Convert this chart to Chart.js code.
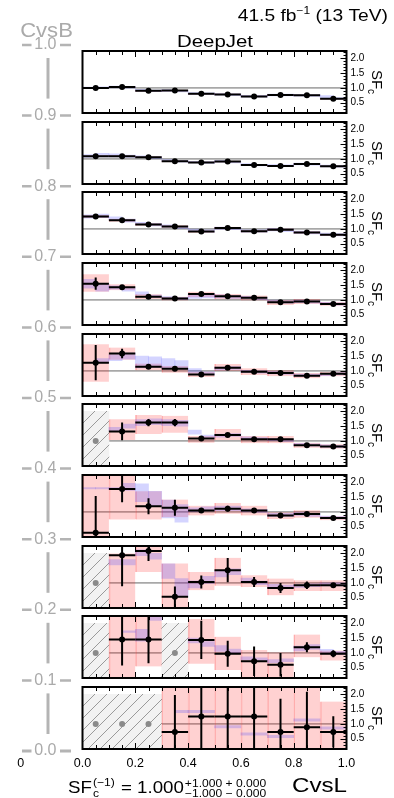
<!DOCTYPE html>
<html>
<head>
<meta charset="utf-8">
<title>DeepJet SFc vs CvsL in CvsB slices</title>
<script src="https://cdn.jsdelivr.net/npm/chart.js@4.4.1/dist/chart.umd.min.js"></script>
<style>
  body { margin: 0; background: #fff; }
  #page { position: relative; width: 394px; height: 798px; overflow: hidden; }
  #page canvas { position: absolute; left: 0; }
</style>
</head>
<body>
<div id="page"><canvas id="frame" width="394" height="798"></canvas></div>
<script>
// x axis: CvsL bins, and the finer bins of the smooth curve
const cvslEdges   = [0, 0.1, 0.2, 0.3, 0.4, 0.5, 0.6, 0.7, 0.8, 0.9, 1.0];
const cvslCenters = [0.05, 0.15, 0.25, 0.35, 0.45, 0.55, 0.65, 0.75, 0.85, 0.95];
const fineCenters = [0.025, 0.075, 0.125, 0.175, 0.225, 0.275, 0.325, 0.375, 0.425, 0.475,
                     0.525, 0.575, 0.625, 0.675, 0.725, 0.775, 0.825, 0.875, 0.925, 0.975];
const cvslTicks = [0, 0.2, 0.4, 0.6, 0.8, 1.0];
const cvsbTicks = [1.0, 0.9, 0.8, 0.7, 0.6, 0.5, 0.4, 0.3, 0.2, 0.1, 0.0];
const sfTicks   = [0.5, 1.0, 1.5, 2.0];
const cvsbSlices = ['0.9-1.0','0.8-0.9','0.7-0.8','0.6-0.7','0.5-0.6','0.4-0.5','0.3-0.4','0.2-0.3','0.1-0.2','0.0-0.1'];

// one row per CvsB slice, top panel first. null = empty bin (hatched)
const sfVal = [
  [1.00, 1.03, 0.90, 0.91, 0.80, 0.78, 0.71, 0.76, 0.75, 0.63],
  [1.09, 1.09, 1.06, 0.92, 0.88, 0.91, 0.79, 0.76, 0.83, 0.75],
  [1.42, 1.29, 1.15, 1.08, 0.91, 1.03, 0.92, 0.97, 0.88, 0.80],
  [1.55, 1.43, 1.11, 1.05, 1.20, 1.12, 1.07, 0.92, 0.95, 0.86],
  [1.28, 1.59, 1.14, 1.07, 0.88, 1.11, 0.97, 0.93, 0.84, 0.90],
  [null, 1.32, 1.62, 1.62, 1.08, 1.20, 1.06, 1.06, 0.85, 0.81],
  [0.29, 1.78, 1.19, 1.14, 1.05, 1.11, 1.05, 0.88, 0.93, 0.79],
  [null, 1.94, 2.08, 0.53, 1.03, 1.43, 1.03, 0.83, 0.92, 0.92],
  [null, 1.45, 1.45, null, 1.44, 0.97, 0.72, 0.60, 1.19, 0.97],
  [null, null, null, 0.73, 1.25, 1.25, 1.25, 0.73, 0.89, 0.73]
];
const sfErr = [
  [0.02, 0.02, 0.02, 0.02, 0.02, 0.02, 0.02, 0.02, 0.02, 0.02],
  [0.02, 0.02, 0.02, 0.02, 0.02, 0.02, 0.02, 0.02, 0.02, 0.02],
  [0.03, 0.03, 0.02, 0.02, 0.02, 0.02, 0.02, 0.02, 0.02, 0.02],
  [0.21, 0.06, 0.03, 0.03, 0.03, 0.03, 0.03, 0.02, 0.02, 0.02],
  [0.60, 0.16, 0.05, 0.06, 0.03, 0.04, 0.03, 0.03, 0.03, 0.03],
  [null, 0.30, 0.12, 0.12, 0.04, 0.07, 0.04, 0.04, 0.03, 0.03],
  [1.25, 0.45, 0.27, 0.27, 0.08, 0.10, 0.07, 0.05, 0.05, 0.03],
  [null, 1.05, 0.34, 0.35, 0.22, 0.41, 0.17, 0.17, 0.13, 0.06],
  [null, 0.88, 0.80, null, 0.65, 0.44, 0.50, 0.40, 0.17, 0.12],
  [null, null, null, 1.25, 1.25, 1.25, 1.25, 1.12, 1.20, 0.53]
];
// total uncertainty band (red), low and high edge per bin
const bandLo = [
  [0.97, 1.00, 0.87, 0.88, 0.77, 0.75, 0.68, 0.73, 0.72, 0.60],
  [1.06, 1.06, 1.03, 0.89, 0.85, 0.88, 0.76, 0.73, 0.80, 0.72],
  [1.37, 1.24, 1.11, 1.04, 0.87, 0.99, 0.88, 0.93, 0.84, 0.76],
  [1.28, 1.33, 1.03, 0.98, 1.09, 1.02, 0.98, 0.83, 0.86, 0.80],
  [0.63, 1.38, 1.02, 0.94, 0.79, 1.00, 0.86, 0.82, 0.75, 0.82],
  [null, 1.03, 1.23, 1.28, 0.94, 1.03, 0.92, 0.92, 0.77, 0.74],
  [-0.5, 0.74, 0.74, 0.82, 0.88, 0.94, 0.88, 0.76, 0.80, 0.72],
  [null, -0.5, 1.37, -0.5, 0.75, 0.90, 0.86, 0.58, 0.73, 0.73],
  [null, -0.5, 0.54, null, 0.63, 0.42, -0.5, -0.5, 0.85, 0.74],
  [null, null, null, -0.5, -0.5, -0.5, -0.5, -0.5, -0.5, -0.5]
];
const bandHi = [
  [1.03, 1.06, 0.93, 0.94, 0.83, 0.81, 0.74, 0.79, 0.78, 0.66],
  [1.12, 1.12, 1.09, 0.95, 0.91, 0.94, 0.82, 0.79, 0.86, 0.78],
  [1.47, 1.34, 1.19, 1.12, 0.95, 1.07, 0.96, 1.01, 0.92, 0.84],
  [1.87, 1.53, 1.19, 1.11, 1.28, 1.20, 1.15, 1.00, 1.03, 0.93],
  [1.90, 1.79, 1.25, 1.17, 0.97, 1.23, 1.09, 1.02, 0.93, 0.97],
  [null, 1.73, 1.88, 1.85, 1.17, 1.40, 1.17, 1.17, 0.94, 0.89],
  [3.0, 3.0, 1.70, 1.42, 1.21, 1.30, 1.21, 0.99, 1.06, 0.85],
  [null, 2.00, 3.0, 1.66, 1.37, 1.85, 1.26, 1.15, 1.09, 1.09],
  [null, 3.0, 3.0, null, 2.15, 1.55, 1.10, 1.02, 1.62, 1.08],
  [null, null, null, 3.0, 3.0, 3.0, 3.0, 3.0, 3.0, 1.76]
];
// smooth curve (blue) in fine bins: central value and half width
const fitMid = [
  [1.00, 1.01, 1.03, 1.02, 0.92, 0.90, 0.91, 0.89, 0.81, 0.80, 0.78, 0.77, 0.72, 0.72, 0.76, 0.76, 0.75, 0.74, 0.70, 0.64],
  [1.10, 1.13, 1.12, 1.09, 1.07, 1.04, 0.95, 0.92, 0.89, 0.88, 0.92, 0.89, 0.81, 0.79, 0.78, 0.77, 0.83, 0.82, 0.76, 0.75],
  [1.42, 1.44, 1.36, 1.28, 1.18, 1.14, 1.10, 1.05, 0.95, 0.93, 1.02, 1.01, 0.93, 0.93, 0.97, 0.95, 0.89, 0.87, 0.82, 0.80],
  [1.55, 1.42, 1.42, 1.35, 1.22, 1.12, 1.07, 1.05, 1.12, 1.14, 1.12, 1.10, 1.08, 1.05, 0.95, 0.93, 0.95, 0.93, 0.88, 0.86],
  [null, 1.35, 1.45, 1.50, 1.30, 1.30, 1.25, 1.20, 1.00, 0.92, 1.08, 1.10, 0.98, 0.96, 0.94, 0.92, 0.85, 0.85, 0.88, 0.90],
  [null, null, 1.40, 1.50, 1.62, 1.65, 1.62, 1.60, 1.30, 1.15, 1.18, 1.20, 1.10, 1.07, 1.05, 1.02, 0.88, 0.86, 0.83, 0.81],
  [1.80, 1.80, 1.80, 1.85, 1.65, 1.45, 1.10, 0.95, 1.07, 1.10, 1.12, 1.12, 1.05, 1.03, 0.90, 0.90, 0.93, 0.90, 0.82, 0.80],
  [null, null, 1.70, 1.70, 2.02, 1.90, 1.40, 0.85, 0.95, 1.10, 1.30, 1.38, 1.10, 1.00, 0.90, 0.88, 0.90, 0.92, 0.95, 0.95],
  [null, null, null, 1.72, 1.60, 2.18, null, null, 1.42, 1.30, 1.15, 1.05, 0.82, 0.78, 0.72, 0.75, 1.15, 1.20, 1.07, 1.00],
  [null, null, null, null, null, null, null, 1.42, 1.42, 1.42, 0.90, 0.90, 0.66, 0.66, 0.57, 0.57, 1.13, 1.13, 0.86, 0.86]
];
const fitErr = [
  [0.03, 0.03, 0.03, 0.03, 0.03, 0.03, 0.03, 0.03, 0.03, 0.03, 0.03, 0.03, 0.03, 0.03, 0.03, 0.03, 0.03, 0.03, 0.04, 0.03],
  [0.05, 0.06, 0.05, 0.04, 0.03, 0.03, 0.03, 0.03, 0.03, 0.03, 0.03, 0.03, 0.03, 0.03, 0.03, 0.03, 0.03, 0.03, 0.03, 0.03],
  [0.06, 0.06, 0.05, 0.05, 0.04, 0.04, 0.04, 0.04, 0.04, 0.04, 0.04, 0.04, 0.04, 0.04, 0.04, 0.04, 0.04, 0.04, 0.04, 0.04],
  [0.15, 0.12, 0.06, 0.05, 0.05, 0.04, 0.04, 0.04, 0.07, 0.07, 0.05, 0.05, 0.04, 0.04, 0.04, 0.04, 0.04, 0.04, 0.04, 0.04],
  [null, 0.07, 0.10, 0.10, 0.20, 0.18, 0.17, 0.15, 0.08, 0.05, 0.05, 0.05, 0.04, 0.04, 0.04, 0.04, 0.04, 0.04, 0.04, 0.04],
  [null, null, 0.06, 0.07, 0.10, 0.10, 0.10, 0.10, 0.07, 0.05, 0.05, 0.05, 0.04, 0.04, 0.04, 0.04, 0.04, 0.04, 0.04, 0.04],
  [0.02, 0.02, 0.02, 0.12, 0.30, 0.25, 0.30, 0.30, 0.07, 0.07, 0.08, 0.08, 0.05, 0.05, 0.05, 0.05, 0.05, 0.05, 0.04, 0.04],
  [null, null, 0.09, 0.09, 0.10, 0.10, 0.25, 0.30, 0.12, 0.12, 0.10, 0.10, 0.06, 0.06, 0.05, 0.05, 0.05, 0.05, 0.05, 0.05],
  [null, null, null, 0.03, 0.20, 0.08, null, null, 0.08, 0.08, 0.10, 0.08, 0.05, 0.05, 0.05, 0.05, 0.08, 0.08, 0.05, 0.05],
  [null, null, null, null, null, null, null, 0.04, 0.04, 0.04, 0.04, 0.04, 0.04, 0.04, 0.04, 0.04, 0.04, 0.04, 0.04, 0.04]
];

const W = 394, H = 798;
const plotL = 82.5, plotR = 346.5;
const cvsbTop = 45, cvsbBottom = 751;
const firstTop = 51, pitch = 70.67, panelH = 62, pad = 6;
const FONT = '"Liberation Sans", Arial, Helvetica, sans-serif';
Chart.defaults.font.family = FONT;

function put(ctx, s, x, y, size, color, sx) {
  sx = sx || 1;
  ctx.save();
  ctx.font = size + 'px ' + FONT;
  ctx.fillStyle = color || '#000';
  ctx.textAlign = 'left';
  ctx.textBaseline = 'alphabetic';
  const w = ctx.measureText(s).width * sx;
  ctx.translate(x, y);
  ctx.scale(sx, 1);
  ctx.fillText(s, 0, 0);
  ctx.restore();
  return w;
}
function widthOf(ctx, s, size, sx) {
  ctx.save();
  ctx.font = size + 'px ' + FONT;
  const w = ctx.measureText(s).width * (sx || 1);
  ctx.restore();
  return w;
}

// error bars, frame, inner ticks and the SF_c title of one panel
const panelDeco = {
  id: 'panelDeco',
  beforeDatasetDraw(chart, args, opts) {
    if (chart.data.datasets[args.index].label !== 'SF') return;
    const p = opts.panel, ctx = chart.ctx, a = chart.chartArea;
    const xs = chart.scales.x, ys = chart.scales.y;
    ctx.save();
    ctx.beginPath();
    ctx.rect(a.left, a.top, a.right - a.left, a.bottom - a.top);
    ctx.clip();
    ctx.strokeStyle = '#000';
    ctx.lineWidth = 2;
    sfVal[p].forEach((v, i) => {
      if (v === null) return;
      const e = sfErr[p][i];
      const px = xs.getPixelForValue(cvslCenters[i]), py = ys.getPixelForValue(v);
      ctx.beginPath();
      ctx.moveTo(xs.getPixelForValue(cvslEdges[i]), py);
      ctx.lineTo(xs.getPixelForValue(cvslEdges[i + 1]), py);
      ctx.moveTo(px, ys.getPixelForValue(v + e));
      ctx.lineTo(px, ys.getPixelForValue(v - e));
      ctx.stroke();
    });
    ctx.restore();
  },
  afterDraw(chart) {
    const ctx = chart.ctx, a = chart.chartArea;
    const xs = chart.scales.x, ys = chart.scales.y;
    ctx.save();
    ctx.strokeStyle = '#000';
    ctx.lineWidth = 1;
    ctx.beginPath();
    for (let k = 1; k < 20; k++) {
      const px = Math.round(xs.getPixelForValue(k * 0.05)) + 0.5;
      const len = k % 4 === 0 ? 6 : 4;
      ctx.moveTo(px, a.top); ctx.lineTo(px, a.top + len);
      ctx.moveTo(px, a.bottom); ctx.lineTo(px, a.bottom - len);
    }
    for (let k = 2; k <= 22; k++) {
      const py = Math.round(ys.getPixelForValue(k / 10)) + 0.5;
      const len = k % 5 === 0 ? 6 : 3;
      ctx.moveTo(a.right, py); ctx.lineTo(a.right - len, py);
    }
    ctx.stroke();
    ctx.lineWidth = 2;
    ctx.strokeRect(a.left, a.top, a.right - a.left, a.bottom - a.top);

    // rotated axis title SF with subscript c
    const cy = (a.top + a.bottom) / 2;
    ctx.translate(a.right + 25.5, cy);
    ctx.rotate(Math.PI / 2);
    const wSF = widthOf(ctx, 'SF', 15), wc = widthOf(ctx, 'c', 10);
    const x0 = -(wSF + wc) / 2;
    put(ctx, 'SF', x0, 0, 15);
    put(ctx, 'c', x0 + wSF, 4, 10);
    ctx.restore();
  }
};

// page texts and the grey CvsB axis
const frameDeco = {
  id: 'frameDeco',
  afterDraw(chart) {
    const ctx = chart.ctx, yb = chart.scales.y;
    ctx.save();
    ctx.strokeStyle = '#b4b4b4';
    ctx.lineCap = 'butt';
    cvsbTicks.forEach(v => {
      const py = yb.getPixelForValue(v);
      ctx.lineWidth = v === 0 ? 3 : 2.5;
      ctx.beginPath();
      ctx.moveTo(22, py); ctx.lineTo(31.5, py);
      ctx.moveTo(60, py); ctx.lineTo(71, py);
      ctx.stroke();
    });
    ctx.lineWidth = 3;
    for (let i = 0; i + 1 < cvsbTicks.length; i++) {
      const y1 = yb.getPixelForValue(cvsbTicks[i]) + 13;
      const y2 = yb.getPixelForValue(cvsbTicks[i + 1]) - 17;
      ctx.beginPath();
      ctx.moveTo(48, y1); ctx.lineTo(48, y2);
      ctx.stroke();
    }
    ctx.restore();

    // CvsB axis name
    const wB = widthOf(ctx, 'CvsB', 21, 1.05);
    put(ctx, 'CvsB', 46.5 - wB / 2, 36.5, 21, '#aaaaaa', 1.05);

    // lumi label
    let sx = 1.2;
    const wa = widthOf(ctx, '41.5 fb', 16, sx), wm = widthOf(ctx, '\u22121', 10, sx), wt = widthOf(ctx, ' (13 TeV)', 16, sx);
    let tx = 388 - (wa + wm + wt);
    tx += put(ctx, '41.5 fb', tx, 21, 16, '#000', sx);
    tx += put(ctx, '\u22121', tx, 14, 10, '#000', sx);
    put(ctx, ' (13 TeV)', tx, 21, 16, '#000', sx);

    // tagger
    const wd = widthOf(ctx, 'DeepJet', 17, 1.2);
    put(ctx, 'DeepJet', 215 - wd / 2, 47, 17, '#000', 1.2);

    // lone zero under the CvsB axis
    const w0 = widthOf(ctx, '0', 12.5);
    put(ctx, '0', 20.7 - w0 / 2, 766.5, 12.5);

    // x axis name
    const wl = widthOf(ctx, 'CvsL', 21, 1.15);
    put(ctx, 'CvsL', 347 - wl, 792, 21, '#000', 1.15);

    // SF_c^(-1) formula
    sx = 1.1;
    let fx = 68;
    fx += put(ctx, 'SF', fx, 793, 17, '#000', sx);
    const wsub = put(ctx, 'c', fx + 1, 797, 11, '#000', sx);
    const wsup = put(ctx, '(\u22121)', fx + 1, 785.5, 11, '#000', sx);
    fx += Math.max(wsub, wsup) + 2;
    fx += put(ctx, ' = 1.000', fx, 793, 17, '#000', sx);
    put(ctx, '+1.000 + 0.000', fx + 1, 787, 11, '#000', sx);
    put(ctx, '\u22121.000 \u2212 0.000', fx + 1, 797, 11, '#000', sx);
  }
};

const page = document.getElementById('page');
const noGrid = { display: false, drawTicks: false };

new Chart(document.getElementById('frame'), {
  type: 'scatter',
  data: { datasets: [] },
  options: {
    responsive: false,
    animation: false,
    events: [],
    layout: { padding: { left: 0, right: W - plotR, top: cvsbTop, bottom: 0 } },
    plugins: { legend: { display: false }, tooltip: { enabled: false } },
    scales: {
      x: {
        type: 'linear', min: 0, max: 1, position: 'bottom',
        grid: noGrid, border: { display: false },
        afterBuildTicks: s => { s.ticks = cvslTicks.map(v => ({ value: v })); },
        afterFit: s => { s.height = H - cvsbBottom; s.paddingLeft = 0; s.paddingRight = 0; },
        ticks: { padding: 5, color: '#000', font: { size: 12.5 }, maxRotation: 0, autoSkip: false,
                 callback: v => v.toFixed(1) }
      },
      y: {
        type: 'linear', min: 0, max: 1, position: 'left',
        grid: noGrid, border: { display: false },
        afterBuildTicks: s => { s.ticks = cvsbTicks.map(v => ({ value: v })); },
        afterFit: s => { s.width = plotL; s.paddingTop = 0; s.paddingBottom = 0; },
        ticks: { padding: 26, color: '#aaaaaa', font: { size: 16 }, autoSkip: false,
                 callback: v => v.toFixed(1) }
      }
    }
  },
  plugins: [frameDeco]
});

for (let p = 0; p < sfVal.length; p++) {
  const cv = document.createElement('canvas');
  cv.width = W;
  cv.height = panelH + 2 * pad;
  cv.style.top = (firstTop + p * pitch - pad) + 'px';
  cv.setAttribute('aria-label', 'SFc vs CvsL, CvsB ' + cvsbSlices[p]);
  page.appendChild(cv);

  // hatch for empty bins
  const tile = document.createElement('canvas');
  tile.width = 12; tile.height = 12;
  const tg = tile.getContext('2d');
  tg.fillStyle = '#f2f2f2';
  tg.fillRect(0, 0, 12, 12);
  tg.strokeStyle = '#9a9a9a';
  tg.lineWidth = 1;
  tg.beginPath();
  tg.moveTo(-1, 13); tg.lineTo(13, -1);
  tg.moveTo(-7, 7); tg.lineTo(7, -7);
  tg.moveTo(5, 19); tg.lineTo(19, 5);
  tg.stroke();
  const hatch = cv.getContext('2d').createPattern(tile, 'repeat');

  const points = [], empty = [], emptyBars = [], bands = [], fits = [];
  cvslCenters.forEach((c, i) => {
    if (sfVal[p][i] === null) {
      empty.push({ x: c, y: 1 });
      emptyBars.push({ x: c, y: [0, 2] });
    } else {
      points.push({ x: c, y: sfVal[p][i] });
      bands.push({ x: c, y: [bandLo[p][i], bandHi[p][i]] });
    }
  });
  fineCenters.forEach((c, i) => {
    const m = fitMid[p][i];
    if (m !== null) fits.push({ x: c, y: [m - fitErr[p][i], m + fitErr[p][i]] });
  });

  new Chart(cv, {
    type: 'bar',
    data: {
      datasets: [
        { type: 'scatter', label: 'SF', data: points, xAxisID: 'x', yAxisID: 'y',
          pointRadius: 3, pointBackgroundColor: '#000', pointBorderWidth: 0, order: 1 },
        { type: 'scatter', label: 'no data', data: empty, xAxisID: 'x', yAxisID: 'y',
          pointRadius: 3, pointBackgroundColor: '#8a8a8a', pointBorderWidth: 0, order: 2 },
        { type: 'bar', label: 'fit', data: fits, xAxisID: 'xf', yAxisID: 'y', grouped: false,
          barPercentage: 1, categoryPercentage: 1, backgroundColor: 'rgba(40,40,255,0.2)',
          borderWidth: 0, order: 4 },
        { type: 'bar', label: 'total unc.', data: bands, xAxisID: 'x', yAxisID: 'y', grouped: false,
          barPercentage: 1, categoryPercentage: 1, backgroundColor: 'rgba(255,0,0,0.18)',
          borderColor: 'rgba(255,60,60,0.3)', borderSkipped: false,
          borderWidth: { left: 1, right: 0, top: 0, bottom: 0 }, order: 5 },
        { type: 'bar', label: 'empty', data: emptyBars, xAxisID: 'x', yAxisID: 'y', grouped: false,
          barPercentage: 1, categoryPercentage: 1, backgroundColor: hatch, borderWidth: 0, order: 6 },
        { type: 'line', label: 'unity', data: [{ x: 0, y: 1 }, { x: 1, y: 1 }], xAxisID: 'x', yAxisID: 'y',
          borderColor: '#a8a8a8', borderWidth: 1.7, pointRadius: 0, order: 7 }
      ]
    },
    options: {
      responsive: false,
      animation: false,
      events: [],
      layout: { padding: { left: plotL, right: 0, top: pad, bottom: pad } },
      plugins: { legend: { display: false }, tooltip: { enabled: false }, panelDeco: { panel: p } },
      scales: {
        x: { type: 'linear', min: 0, max: 1, offset: false, display: false },
        xf: { type: 'linear', min: 0, max: 1, offset: false, display: false },
        y: {
          type: 'linear', position: 'right', min: 0.15, max: 2.25,
          grid: noGrid, border: { display: false },
          afterBuildTicks: s => { s.ticks = sfTicks.map(v => ({ value: v })); },
          afterFit: s => { s.width = W - plotR; s.paddingTop = 0; s.paddingBottom = 0; },
          ticks: { padding: 4, color: '#000', font: { size: 10 }, autoSkip: false,
                   callback: v => v.toFixed(1) }
        }
      }
    },
    plugins: [panelDeco]
  });
}
</script>
</body>
</html>
